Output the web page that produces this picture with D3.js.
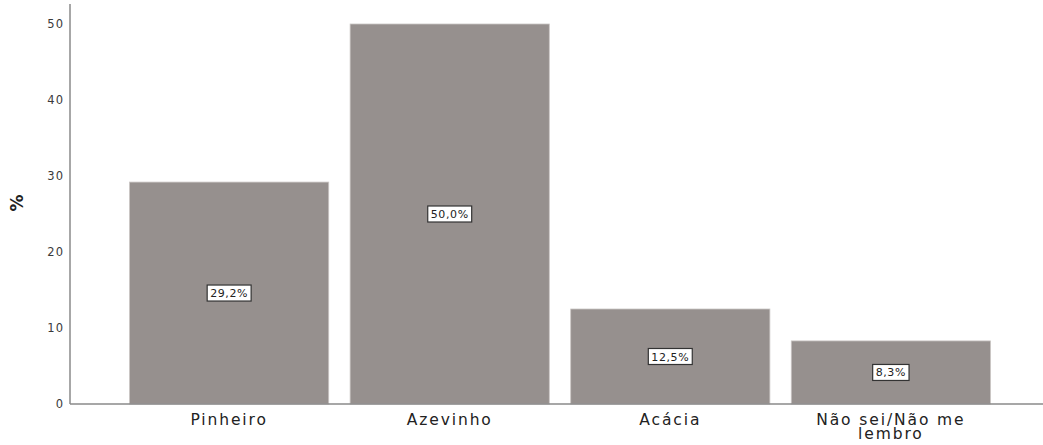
<!DOCTYPE html>
<html>
<head>
<meta charset="utf-8">
<script src="https://cdn.jsdelivr.net/npm/d3@7"></script>
<style>
  html, body { margin: 0; padding: 0; background: #fff; }
  svg { display: block; font-family: "DejaVu Sans", Verdana, sans-serif; }
</style>
</head>
<body>
<svg id="chart" width="1043" height="445"></svg>
<script>
const categories = ["Pinheiro", "Azevinho", "Acácia", "Não sei/Não me lembro"];
const categoryLines = [["Pinheiro"], ["Azevinho"], ["Acácia"], ["Não sei/Não me", "lembro"]];
const values = [29.2, 50.0, 12.5, 8.3];
const valueLabels = ["29,2%", "50,0%", "12,5%", "8,3%"];
const yTicks = [0, 10, 20, 30, 40, 50];
const yTitle = "%";

const svg = d3.select("#chart");
const W = 1043, H = 445;
const left = 70, bottom = 404;

const x = d3.scaleBand().domain(categories).range([left, 1050]).paddingInner(0.097).paddingOuter(0.27);
const y = d3.scaleLinear().domain([0, 50]).range([bottom, 24]);

// bars
svg.append("g").selectAll("rect").data(categories).join("rect")
  .attr("x", d => x(d))
  .attr("y", (d, i) => y(values[i]))
  .attr("width", x.bandwidth())
  .attr("height", (d, i) => y(0) - y(values[i]))
  .attr("fill", "#96908e")
  .attr("stroke", "#c9c5c3")
  .attr("stroke-width", 0.8);

// axes
const yAxis = d3.axisLeft(y).tickValues(yTicks).tickSize(0).tickPadding(6).tickFormat(d3.format("d"));
const gy = svg.append("g").attr("transform", `translate(${left},0)`).call(yAxis);
gy.select(".domain").remove();
gy.selectAll("text").attr("font-size", "11.5px").attr("fill", "#3a3a3a").style("letter-spacing", "1px")
  .attr("font-family", "DejaVu Sans, sans-serif");
svg.append("line").attr("x1", left).attr("x2", left).attr("y1", 4).attr("y2", bottom)
  .attr("stroke", "#8a8a8a").attr("stroke-width", 1.5);

const xAxis = d3.axisBottom(x).tickSize(0).tickPadding(0).tickFormat(() => "");
const gx = svg.append("g").attr("transform", `translate(0,${bottom})`).call(xAxis);
gx.select(".domain").remove();
svg.append("line").attr("x1", left).attr("x2", W).attr("y1", bottom).attr("y2", bottom)
  .attr("stroke", "#8a8a8a").attr("stroke-width", 1.5);

// category labels
categories.forEach((c, i) => {
  const t = svg.append("text")
    .attr("x", x(c) + x.bandwidth() / 2)
    .attr("y", 425)
    .attr("text-anchor", "middle")
    .attr("font-size", "15.5px")
    .attr("fill", "#222")
    .style("letter-spacing", "1.9px");
  categoryLines[i].forEach((ln, j) => {
    t.append("tspan").attr("x", x(c) + x.bandwidth() / 2).attr("dy", j === 0 ? 0 : 14).text(ln);
  });
});

// value labels
categories.forEach((c, i) => {
  const cx = x(c) + x.bandwidth() / 2;
  const cy = (y(values[i]) + y(0)) / 2;
  const g = svg.append("g");
  const t = g.append("text")
    .attr("x", cx).attr("y", cy + 4)
    .attr("text-anchor", "middle")
    .attr("font-size", "11px")
    .attr("fill", "#222")
    .style("letter-spacing", "0.6px")
    .text(valueLabels[i]);
  const bb = t.node().getBBox();
  g.insert("rect", "text")
    .attr("x", bb.x - 3).attr("y", cy - 8)
    .attr("width", bb.width + 6).attr("height", 16)
    .attr("fill", "#fff").attr("stroke", "#333").attr("stroke-width", 1.2);
});

// y title
svg.append("text")
  .attr("transform", "translate(23,203) rotate(-90)")
  .attr("text-anchor", "middle")
  .attr("font-size", "17px")
  .attr("font-weight", "bold")
  .attr("fill", "#222")
  .text(yTitle);
</script>
</body>
</html>
